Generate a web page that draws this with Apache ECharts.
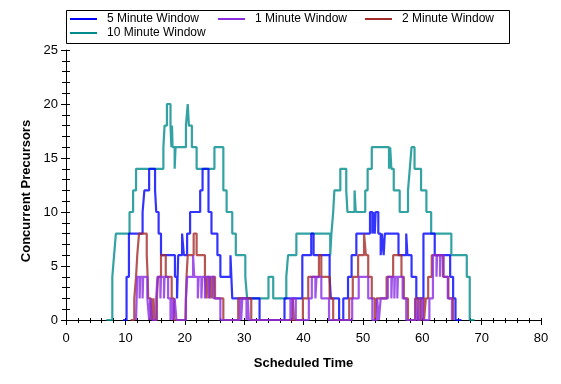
<!DOCTYPE html>
<html>
<head>
<meta charset="utf-8">
<script src="https://cdn.jsdelivr.net/npm/echarts@6/dist/echarts.min.js"></script>
<style>html,body{margin:0;padding:0;background:#fff}#c{width:561px;height:384px}</style>
</head>
<body>
<div id="c"></div>
<script>
// Series names (legend order)
var seriesNames = ['5 Minute Window', '1 Minute Window', '2 Minute Window', '10 Minute Window'];
var xTicks = [0, 10, 20, 30, 40, 50, 60, 70, 80];
var yTicks = [0, 5, 10, 15, 20, 25];

// Step breakpoints [scheduled time, concurrent precursors] (value holds until next point)
var win10 = [[6.8,0],[7.8,4],[8.1,6],[8.4,8],[10.7,10],[11.3,12],[11.8,14],[16.4,16],[16.6,18],[17.0,20],[17.6,18],[17.75,16],[17.85,18],[17.95,16],[18.3,14],[18.45,16],[20.2,18],[20.5,20],[20.7,18],[21.2,16],[22.0,14],[25.0,16],[26.5,12],[27.05,10],[28.0,8],[28.6,6],[30.2,4],[30.5,2],[34.1,4],[34.9,2],[37.1,4],[37.4,6],[38.8,8],[44.5,6],[44.7,8],[45.0,10],[45.2,12],[46.2,14],[47.2,12],[47.4,10],[48.6,12],[48.8,10],[50.4,12],[50.8,14],[51.5,16],[54.4,14],[54.6,16],[54.8,14],[55.2,12],[56.2,10],[57.6,12],[57.9,14],[58.2,16],[58.7,14],[59.8,12],[60.7,10],[61.5,8],[64.9,6],[67.5,4],[68.0,0],[68.8,0]];

var win5 = [[9.6,0],[10.2,4],[10.6,8],[12.9,10],[13.2,12],[14.0,14],[15.0,12],[15.2,10],[15.6,8],[16.0,6],[18.35,4],[18.7,2],[18.9,6],[19.55,8],[19.85,6],[20.4,8],[20.9,10],[22.6,12],[23.0,14],[24.0,10],[24.5,8],[25.5,6],[26.0,4],[27.7,6],[27.85,4],[28.0,2],[32.6,0],[36.8,2],[39.8,6],[41.3,8],[41.7,6],[44.4,4],[44.6,2],[46.0,0],[46.7,2],[47.5,4],[48.1,6],[48.9,8],[51.2,10],[51.6,8],[51.75,10],[52.0,8],[52.15,10],[52.6,8],[53.0,6],[53.2,8],[53.5,6],[53.7,8],[56.0,6],[57.3,8],[57.5,6],[58.2,4],[59.0,2],[60.2,8],[62.1,6],[64.7,4],[65.2,2],[65.6,0],[66.6,0]];

var win2 = [[10.9,0],[11.5,2],[11.8,4],[12.0,6],[12.3,8],[13.6,6],[13.75,4],[13.85,2],[14.3,0],[14.45,2],[14.6,0],[14.75,2],[14.9,0],[15.3,2],[15.5,4],[16.0,6],[16.8,4],[17.8,2],[18.2,0],
  [20.1,0],[20.3,4],[20.5,6],[21.5,8],[22.0,6],[23.4,4],[23.7,2],[23.8,4],[24.2,2],[24.3,4],[24.6,2],[24.7,4],[25.1,2],[26.5,0],
  [29.0,2],[31.2,0],
  [38.2,2],[38.4,0],[39.9,2],[40.8,4],[42.6,6],[43.0,4],[44.4,2],[45.0,0],
  [47.7,2],[48.3,4],[49.2,6],[50.2,8],[50.5,6],[50.9,4],[51.5,2],[52.0,0],[52.3,2],[54.0,4],[55.1,6],[56.5,4],[56.9,2],[57.6,0],
  [58.8,2],[59.3,0],[59.8,2],[60.3,0],[60.6,2],[61.0,4],[61.6,6],[63.5,4],[64.4,2],[65.2,0]];

var win1 = [[11.8,0],[12.0,4],[12.4,2],[12.5,4],[12.9,2],[13.0,4],[13.7,2],[14.0,0],[14.2,2],[14.5,0],[15.2,2],[15.4,4],[15.9,2],[16.0,4],[16.5,2],[16.6,4],[17.2,2],[17.6,0],[17.8,2],[18.0,0],[18.3,2],[18.6,0],
  [20.2,2],[20.4,4],[21.4,6],[21.6,4],[22.2,2],[22.35,4],[22.8,2],[22.95,4],[23.4,2],[23.55,4],[24.1,2],[24.25,4],[24.9,2],[26.0,0],
  [29.3,2],[29.5,0],[29.7,2],[30.4,0],[30.6,2],[30.8,0],
  [37.8,2],[38.0,0],[38.2,2],[38.7,0],[40.9,2],[41.4,4],[42.0,2],[42.2,4],[43.0,2],[44.3,0],
  [48.2,2],[49.3,4],[50.9,2],[51.6,0],[52.4,2],[52.7,0],[53.0,2],[54.2,4],[54.8,2],[54.9,4],[55.3,2],[55.4,4],[55.8,2],[55.9,4],[56.7,2],[57.3,0],
  [58.9,2],[59.2,0],[59.6,2],[60.1,0],[61.2,2],[61.8,6],[62.4,4],[62.5,6],[63.0,4],[63.1,6],[63.6,4],[64.3,2],[65.0,0]];

var colors = {'5 Minute Window':'#0000FF','1 Minute Window':'#8A2BE2','2 Minute Window':'#A52A2A','10 Minute Window':'#008B8B'};
var dataMap = {'5 Minute Window':win5,'1 Minute Window':win1,'2 Minute Window':win2,'10 Minute Window':win10};
var drawOrder = ['10 Minute Window','5 Minute Window','2 Minute Window','1 Minute Window'];

var chart = echarts.init(document.getElementById('c'), null, {renderer:'canvas'});
var FONT = 'Liberation Sans, Arial, sans-serif';

function legendAt(name, left, top) {
  return {
    data: [name], left: left, top: top, orient: 'horizontal',
    icon: 'rect', itemWidth: 27, itemHeight: 2, padding: 0,
    textStyle: {fontFamily: FONT, fontSize: 12, color: '#000', padding: [0,0,0,5]},
    selectedMode: false
  };
}

var xMin = xTicks[0], xMax = xTicks[xTicks.length-1];
var yMin = yTicks[0], yMax = yTicks[yTicks.length-1];

chart.setOption({
  animation: false,
  backgroundColor: '#fff',
  textStyle: {fontFamily: FONT},
  legend: [
    legendAt(seriesNames[0], 70, 13),
    legendAt(seriesNames[1], 218, 13),
    legendAt(seriesNames[2], 365, 13),
    legendAt(seriesNames[3], 70, 27)
  ],
  graphic: [{
    type: 'rect', shape: {x: 66.5, y: 10.5, width: 443, height: 33},
    style: {fill: 'none', stroke: '#000', lineWidth: 1}, z: 100
  }],
  grid: {left: 66, right: 20, top: 50, bottom: 64, containLabel: false},
  xAxis: [{
    type: 'value', min: xMin, max: xMax, interval: 10,
    name: 'Scheduled Time', nameLocation: 'middle', nameGap: 37,
    nameTextStyle: {fontFamily: FONT, fontSize: 13, fontWeight: 'bold', color: '#000'},
    axisLine: {show: true, onZero: false, lineStyle: {color: '#000', width: 1}},
    axisTick: {show: true, length: 5, lineStyle: {color: '#000'}},
    minorTick: {show: true, splitNumber: 5, length: 3, lineStyle: {color: '#000'}},
    axisLabel: {fontFamily: FONT, fontSize: 13, color: '#000', margin: 12},
    splitLine: {show: false}
  }, {
    type: 'value', min: xMin, max: xMax, interval: 10, position: 'bottom',
    axisLine: {show: false, onZero: false},
    axisTick: {show: true, inside: true, length: 2, lineStyle: {color: '#000'}},
    minorTick: {show: true, splitNumber: 5, length: 2, lineStyle: {color: '#000'}},
    axisLabel: {show: false}, splitLine: {show: false}
  }],
  yAxis: [{
    type: 'value', min: yMin, max: yMax, interval: 5,
    name: 'Concurrent Precursors', nameLocation: 'middle', nameGap: 32,
    nameTextStyle: {fontFamily: FONT, fontSize: 13, fontWeight: 'bold', color: '#000', padding: [0, 12, 0, 0]},
    axisLine: {show: true, onZero: false, lineStyle: {color: '#000', width: 1}},
    axisTick: {show: true, length: 5, lineStyle: {color: '#000'}},
    minorTick: {show: true, splitNumber: 5, length: 4, lineStyle: {color: '#000'}},
    axisLabel: {fontFamily: FONT, fontSize: 13, color: '#000', margin: 8},
    splitLine: {show: false}
  }, {
    type: 'value', min: yMin, max: yMax, interval: 5, position: 'left',
    axisLine: {show: false, onZero: false},
    axisTick: {show: true, inside: true, length: 4, lineStyle: {color: '#000'}},
    minorTick: {show: true, splitNumber: 5, length: 4, lineStyle: {color: '#000'}},
    axisLabel: {show: false}, splitLine: {show: false}
  }],
  series: drawOrder.map(function(n){
    return {
      name: n, type: 'line', step: 'end', data: dataMap[n],
      xAxisIndex: 0, yAxisIndex: 0,
      showSymbol: false, symbol: 'none', clip: true,
      color: colors[n],
      lineStyle: {color: colors[n], width: 2.2, opacity: 0.8}
    };
  })
});
</script>
</body>
</html>
